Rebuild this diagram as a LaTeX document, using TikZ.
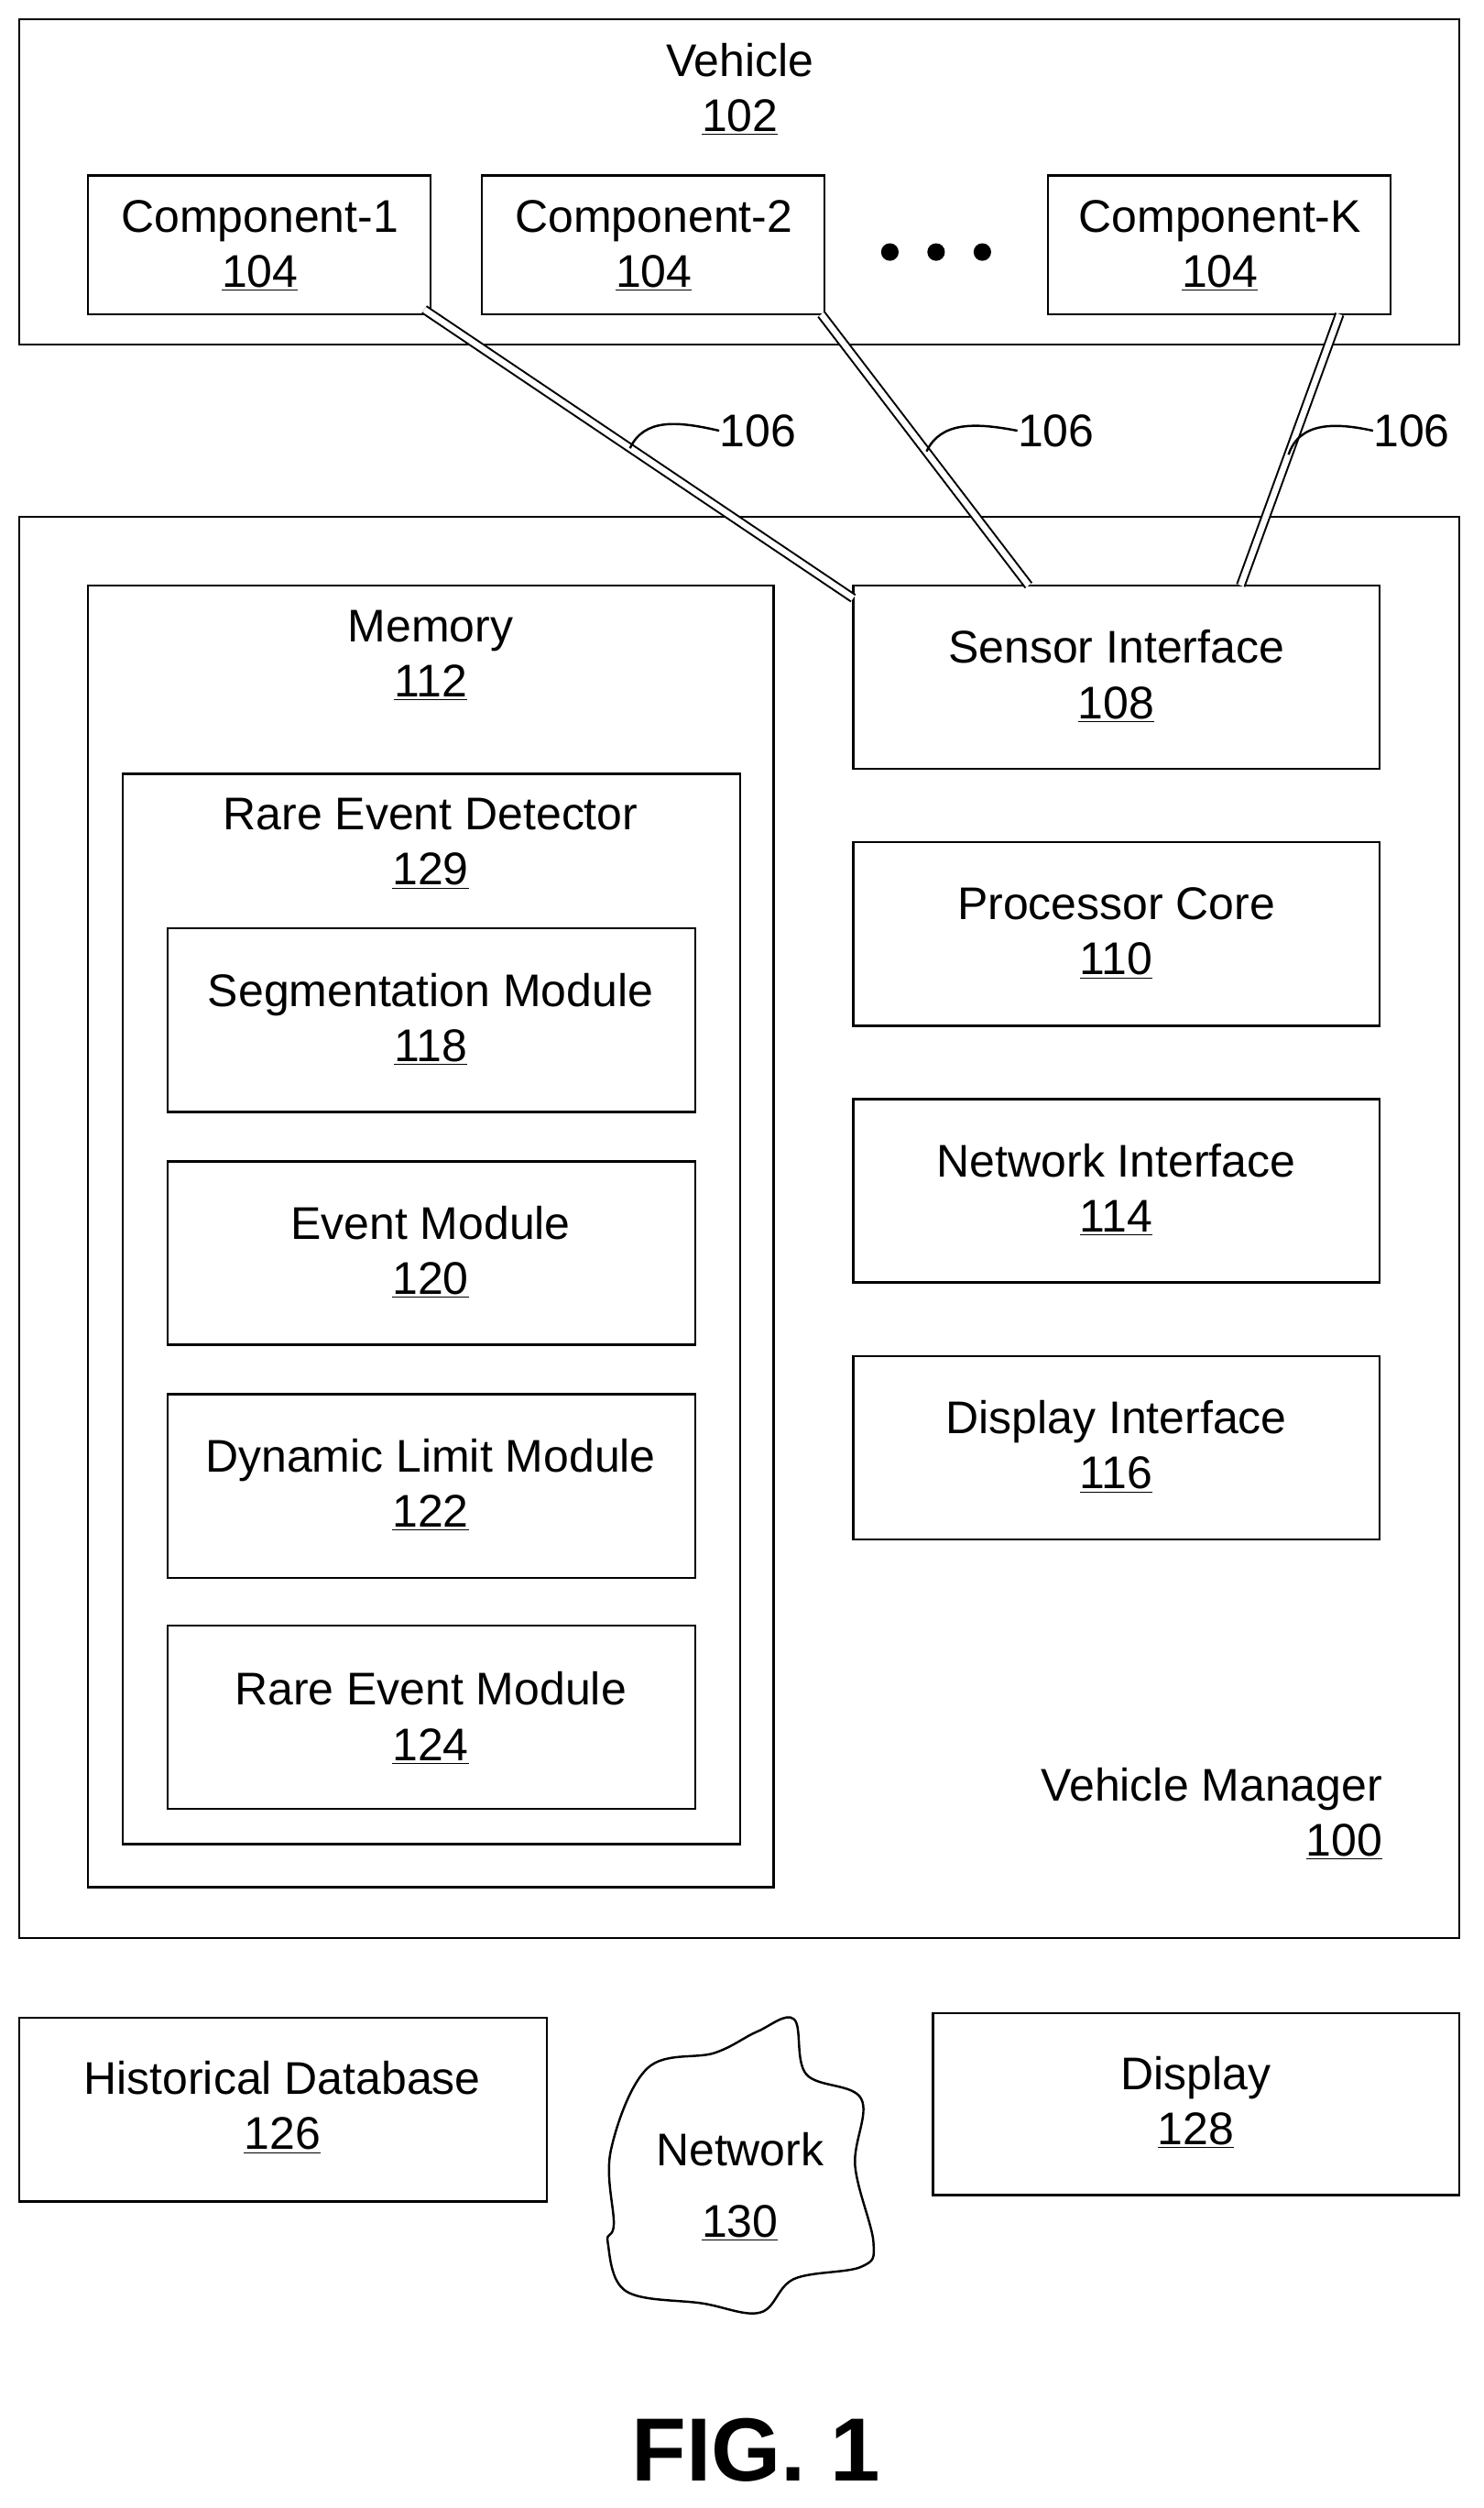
\documentclass[tikz,border=0pt]{standalone}
\usepackage{fontspec}
\setmainfont{Liberation Sans}
\usetikzlibrary{fit}
\begin{document}
\begin{tikzpicture}[x=0.03cm,y=-0.03cm,
  box/.style={draw,line width=1.2pt,inner sep=0pt},
  lbl/.style={align=center,font=\fontsize{24.5}{29.5}\selectfont,inner sep=0pt},
  link/.style={draw=black,double=white,line width=1pt,double distance=3.2pt},
  lead/.style={line width=1.2pt}]
\useasboundingbox (0,0) rectangle (930,1572.2);
% vehicle
\node[box,fit={(12,12) (915,216)}] (veh) {};
\node[lbl] (vehT) at (464,56) {Vehicle\\\underline{102}};
\node[box,fit={(55,110) (270,197)}] (c1) {};
\node[lbl] (c1T) at (163,154) {Component-1\\\underline{104}};
\node[box,fit={(302,110) (517,197)}] (c2) {};
\node[lbl] (c2T) at (410,154) {Component-2\\\underline{104}};
\node[box,fit={(657,110) (872,197)}] (ck) {};
\node[lbl] (ckT) at (765,154) {Component-K\\\underline{104}};
\foreach \x/\n in {558/d1,587/d2,616/d3} \fill (\x,158) circle (5.5) coordinate (\n);
% vehicle manager
\node[box,fit={(12,324) (915,1215)}] (vm) {};
\node[lbl,align=right,anchor=east] (vmT) at (867,1137) {Vehicle Manager\\\underline{100}};
\node[box,fit={(55,367) (485,1183)}] (mem) {};
\node[lbl] (memT) at (270,411) {Memory\\\underline{112}};
\node[box,fit={(77,485) (464,1156)}] (red) {};
\node[lbl] (redT) at (270,529) {Rare Event Detector\\\underline{129}};
\node[box,fit={(105,582) (436,697)}] (seg) {};
\node[lbl] (segT) at (270,639) {Segmentation Module\\\underline{118}};
\node[box,fit={(105,728) (436,843)}] (ev) {};
\node[lbl] (evT) at (270,785) {Event Module\\\underline{120}};
\node[box,fit={(105,874) (436,989)}] (dl) {};
\node[lbl] (dlT) at (270,931) {Dynamic Limit Module\\\underline{122}};
\node[box,fit={(105,1019) (436,1134)}] (rem) {};
\node[lbl] (remT) at (270,1077) {Rare Event Module\\\underline{124}};
\node[box,fit={(535,367) (865,482)}] (si) {};
\node[lbl] (siT) at (700,424) {Sensor Interface\\\underline{108}};
\node[box,fit={(535,528) (865,643)}] (pc) {};
\node[lbl] (pcT) at (700,585) {Processor Core\\\underline{110}};
\node[box,fit={(535,689) (865,804)}] (ni) {};
\node[lbl] (niT) at (700,746) {Network Interface\\\underline{114}};
\node[box,fit={(535,850) (865,965)}] (di) {};
\node[lbl] (diT) at (700,907) {Display Interface\\\underline{116}};
% bottom
\node[box,fit={(12,1265) (343,1380)}] (hdb) {};
\node[lbl] (hdbT) at (177,1321) {Historical Database\\\underline{126}};
\node[box,fit={(585,1262) (915,1376)}] (dsp) {};
\node[lbl] (dspT) at (750,1318) {Display\\\underline{128}};
\draw[line width=1.2pt] plot[smooth cycle,tension=0.6] coordinates {(497.9,1265.8) (505.6,1300.3) (540,1315.6) (536.2,1357.7) (547.7,1405.6) (540,1421) (497.9,1428.6) (476.8,1449.6) (440.5,1443.9) (392.6,1436.3) (381.1,1405.6) (384.9,1394.1) (383,1348.2) (406,1296.5) (448.1,1286.9) (474.9,1273.5)};
\node[lbl,font=\fontsize{24.5}{38}\selectfont] (net) at (464,1371) {Network\\\underline{130}};
\node[font=\fontsize{48}{52}\selectfont\bfseries] (fig) at (474,1536) {FIG. 1};
% links
\coordinate (a1) at (266,194); \coordinate (b1) at (535,375);
\coordinate (a2) at (515,197); \coordinate (b2) at (645,367);
\coordinate (a3) at (840,197); \coordinate (b3) at (778,367);
\draw[link] (a1) -- (b1);
\draw[link] (a2) -- (b2);
\draw[link] (a3) -- (b3);
\node[lbl,anchor=west] (l1) at (451,270) {106};
\node[lbl,anchor=west] (l2) at (638,270) {106};
\node[lbl,anchor=west] (l3) at (861,270) {106};
\coordinate (s1) at (395,281); \coordinate (s2) at (581,283); \coordinate (s3) at (808,285);
\draw[lead] (s1) .. controls (404,262) and (425,264) .. (l1.west);
\draw[lead] (s2) .. controls (590,264) and (612,265) .. (l2.west);
\draw[lead] (s3) .. controls (815,264) and (838,265) .. (l3.west);
\end{tikzpicture}
\end{document}
